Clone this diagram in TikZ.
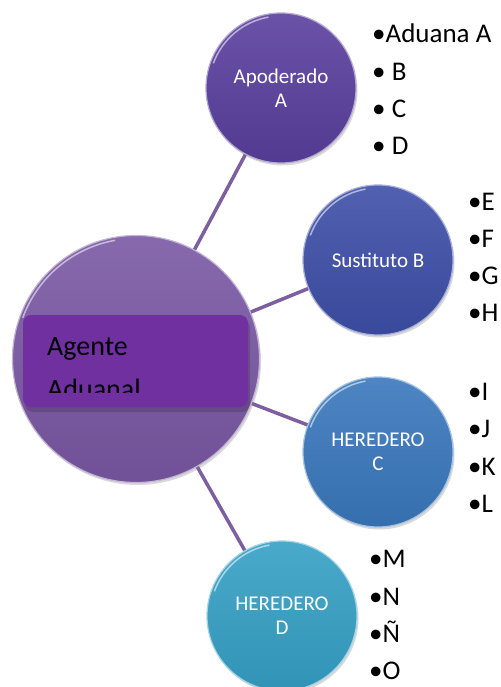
\documentclass[tikz,border=0pt]{standalone}
\usepackage{fontspec}
\setmainfont{Carlito}
\usetikzlibrary{backgrounds,shadows}
\definecolor{cAg}{HTML}{7A58A4}
\definecolor{cA}{HTML}{5A3F9E}
\definecolor{cB}{HTML}{3E4FA8}
\definecolor{cC}{HTML}{3A78BD}
\definecolor{cD}{HTML}{35A0C5}
\definecolor{cBox}{HTML}{7030A0}
\definecolor{cLine}{HTML}{7D5F9F}
\begin{document}
\begin{tikzpicture}[x=1pt,y=-1pt,
  bubble/.style={circle, inner sep=0pt, align=center, text=white,
    font=\fontsize{21}{24}\selectfont,
    draw=white!55!#1, line width=1.2pt,
    top color=#1!90!white, bottom color=#1!92!black,
    drop shadow={opacity=0.3, shadow xshift=1.5pt, shadow yshift=-2.5pt}},
  small/.style={minimum size=150pt},
  item/.style={anchor=base west, inner sep=0pt, font=\fontsize{27}{30}\selectfont},
  conn/.style={draw=cLine, line width=3.5pt},
  agtext/.style={anchor=base west, inner sep=0pt, font=\fontsize{28}{34}\selectfont}]
\useasboundingbox (0,0) rectangle (500,687);
% circles
\node[bubble=cAg, minimum size=247pt] (ag) at (136,359) {};
\node[bubble=cA, small] (a) at (281,88) {Apoderado\\A};
\node[bubble=cB, small] (b) at (378,260) {Sustituto B};
\node[bubble=cC, small] (c) at (378,452) {HEREDERO\\C};
\node[bubble=cD, small] (d) at (282,616) {HEREDERO\\D};
% connectors
\begin{scope}[on background layer]
\fill[white] (0,0) rectangle (500,687);
\draw[conn] (ag.center) -- (a.center);
\draw[conn] (ag.center) -- (b.center);
\draw[conn] (ag.center) -- (c.center);
\draw[conn] (ag.center) -- (d.center);
\end{scope}
% highlight rims
\foreach \n/\r in {ag/123.5, a/75, b/75, c/75, d/75}{
  \draw[white, opacity=0.55, line width=1.5pt] ([shift={(200:\r-3)}]\n.center) arc[start angle=200, end angle=260, radius=\r-3];
}
% label box
\fill[black, opacity=0.15, rounded corners=8pt] (25,320) rectangle (250,412);
\fill[cBox, rounded corners=8pt] (23,315) rectangle (248,407);
\node[agtext] (t1) at (47,355) {Agente};
\begin{scope}
\clip (23,315) rectangle (248,392);
\node[agtext] (t2) at (47,398) {Aduanal};
\end{scope}
% lists
\node[item] (a1) at (372,43) {•Aduana A};
\node[item] (a2) at (372,81) {• B};
\node[item] (a3) at (372,118) {• C};
\node[item] (a4) at (372,155) {• D};
\node[item] (b1) at (468,210) {•E};
\node[item] (b2) at (468,247) {•F};
\node[item] (b3) at (468,284) {•G};
\node[item] (b4) at (468,321) {•H};
\node[item] (c1) at (468,400) {•I};
\node[item] (c2) at (468,437) {•J};
\node[item] (c3) at (468,475) {•K};
\node[item] (c4) at (468,512) {•L};
\node[item] (d1) at (369,567) {•M};
\node[item] (d2) at (369,605) {•N};
\node[item] (d3) at (369,642) {•Ñ};
\node[item] (d4) at (369,679) {•O};
\end{tikzpicture}
\end{document}
